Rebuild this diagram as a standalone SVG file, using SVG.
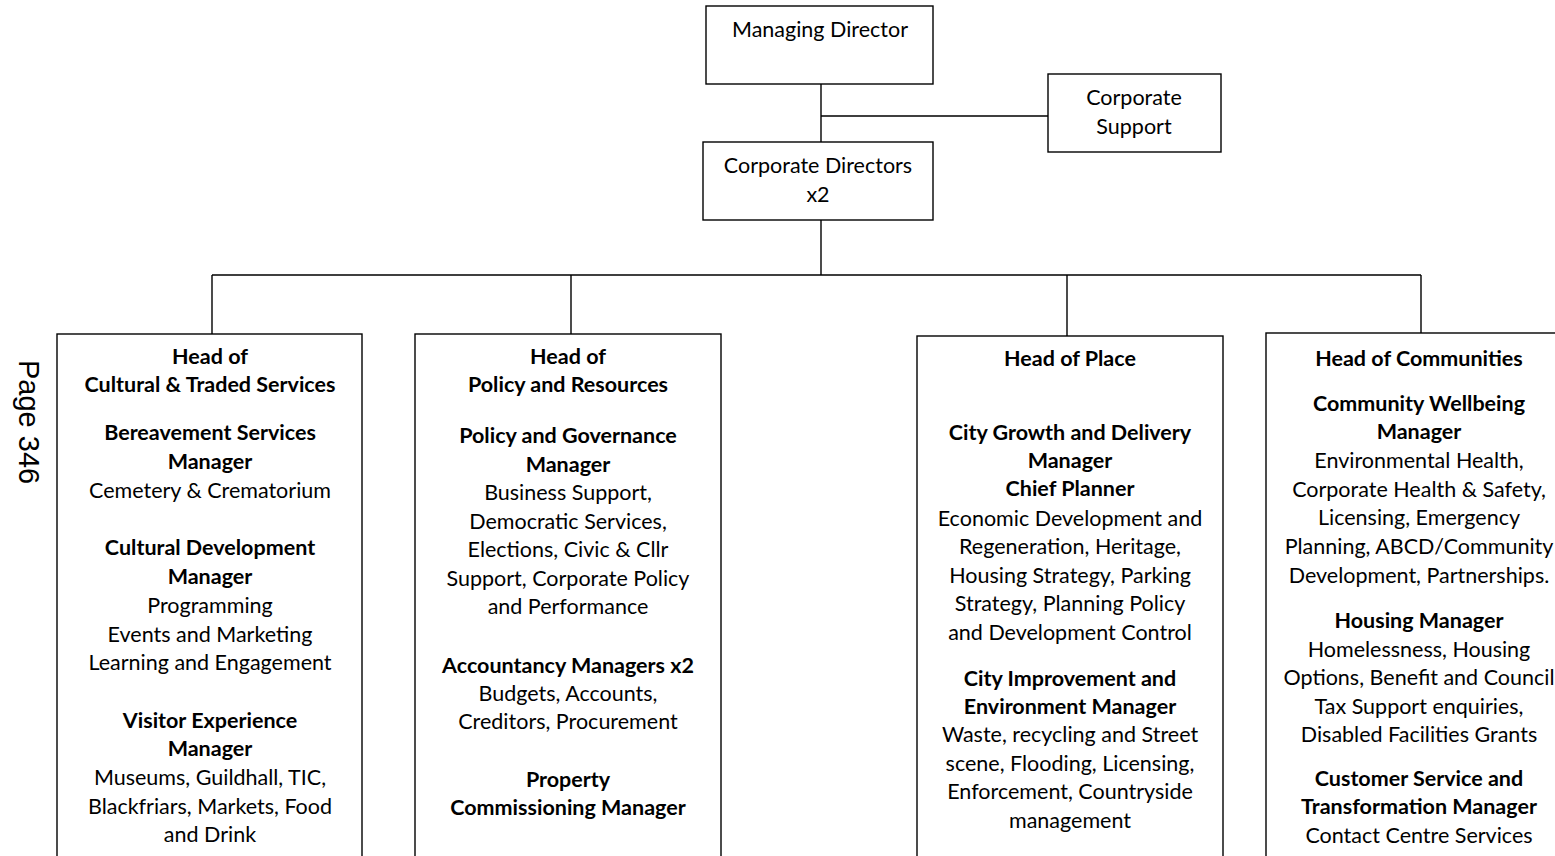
<svg xmlns="http://www.w3.org/2000/svg" width="1555" height="856" viewBox="0 0 1555 856">
<style>
text{font-family:Lato,"Open Sans","Liberation Sans",sans-serif;font-size:21.5px;fill:#000;text-anchor:middle}
.b{font-weight:bold}
.box{fill:#fff;stroke:#000;stroke-width:1.4}
.ln{stroke:#000;stroke-width:1.4;fill:none}
.pg{font-family:"Liberation Sans",Arial,sans-serif;font-size:29px;text-anchor:start}
</style>
<rect width="1555" height="856" fill="#fff"/>
<g id="connectors">
<path class="ln" d="M821 84V142M821 116H1048M821 220V275M212 275H1421M212 275V334M571 275V334M1067 275V336M1421 275V333"/>
</g>
<g id="managing-director">
<rect class="box" x="706" y="6" width="227" height="78"/>
<text x="820" y="37">Managing Director</text>
</g>
<g id="corporate-support">
<rect class="box" x="1048" y="74" width="173" height="78"/>
<text x="1134" y="105">Corporate</text>
<text x="1134" y="134">Support</text>
</g>
<g id="corporate-directors">
<rect class="box" x="703" y="142" width="230" height="78"/>
<text x="818" y="173">Corporate Directors</text>
<text x="818" y="202">x2</text>
</g>
<g id="page-label">
<text class="pg" transform="translate(19,360) rotate(90)">Page 346</text>
</g>
<g id="head-cultural">
<rect class="box" x="57" y="334" width="305" height="540"/>
<text class="b" x="210" y="364">Head of</text>
<text class="b" x="210" y="392">Cultural &amp; Traded Services</text>
<text class="b" x="210" y="440">Bereavement Services</text>
<text class="b" x="210" y="469">Manager</text>
<text x="210" y="498">Cemetery &amp; Crematorium</text>
<text class="b" x="210" y="555">Cultural Development</text>
<text class="b" x="210" y="584">Manager</text>
<text x="210" y="613">Programming</text>
<text x="210" y="642">Events and Marketing</text>
<text x="210" y="670">Learning and Engagement</text>
<text class="b" x="210" y="728">Visitor Experience</text>
<text class="b" x="210" y="756">Manager</text>
<text x="210" y="785">Museums, Guildhall, TIC,</text>
<text x="210" y="814">Blackfriars, Markets, Food</text>
<text x="210" y="842">and Drink</text>
</g>
<g id="head-policy">
<rect class="box" x="415" y="334" width="306" height="540"/>
<text class="b" x="568" y="364">Head of</text>
<text class="b" x="568" y="392">Policy and Resources</text>
<text class="b" x="568" y="443">Policy and Governance</text>
<text class="b" x="568" y="472">Manager</text>
<text x="568" y="500">Business Support,</text>
<text x="568" y="529">Democratic Services,</text>
<text x="568" y="557">Elections, Civic &amp; Cllr</text>
<text x="568" y="586">Support, Corporate Policy</text>
<text x="568" y="614">and Performance</text>
<text class="b" x="568" y="673">Accountancy Managers x2</text>
<text x="568" y="701">Budgets, Accounts,</text>
<text x="568" y="729">Creditors, Procurement</text>
<text class="b" x="568" y="787">Property</text>
<text class="b" x="568" y="815">Commissioning Manager</text>
</g>
<g id="head-place">
<rect class="box" x="917" y="336" width="306" height="540"/>
<text class="b" x="1070" y="366">Head of Place</text>
<text class="b" x="1070" y="440">City Growth and Delivery</text>
<text class="b" x="1070" y="468">Manager</text>
<text class="b" x="1070" y="496">Chief Planner</text>
<text x="1070" y="526">Economic Development and</text>
<text x="1070" y="554">Regeneration, Heritage,</text>
<text x="1070" y="583">Housing Strategy, Parking</text>
<text x="1070" y="611">Strategy, Planning Policy</text>
<text x="1070" y="640">and Development Control</text>
<text class="b" x="1070" y="686">City Improvement and</text>
<text class="b" x="1070" y="714">Environment Manager</text>
<text x="1070" y="742">Waste, recycling and Street</text>
<text x="1070" y="771">scene, Flooding, Licensing,</text>
<text x="1070" y="799">Enforcement, Countryside</text>
<text x="1070" y="828">management</text>
</g>
<g id="head-communities">
<rect class="box" x="1266" y="333" width="310" height="540"/>
<text class="b" x="1419" y="366">Head of Communities</text>
<text class="b" x="1419" y="411">Community Wellbeing</text>
<text class="b" x="1419" y="439">Manager</text>
<text x="1419" y="468">Environmental Health,</text>
<text x="1419" y="497">Corporate Health &amp; Safety,</text>
<text x="1419" y="525">Licensing, Emergency</text>
<text x="1419" y="554">Planning, ABCD/Community</text>
<text x="1419" y="583">Development, Partnerships.</text>
<text class="b" x="1419" y="628">Housing Manager</text>
<text x="1419" y="657">Homelessness, Housing</text>
<text x="1419" y="685">Options, Benefit and Council</text>
<text x="1419" y="714">Tax Support enquiries,</text>
<text x="1419" y="742">Disabled Facilities Grants</text>
<text class="b" x="1419" y="786">Customer Service and</text>
<text class="b" x="1419" y="814">Transformation Manager</text>
<text x="1419" y="843">Contact Centre Services</text>
</g>
</svg>
